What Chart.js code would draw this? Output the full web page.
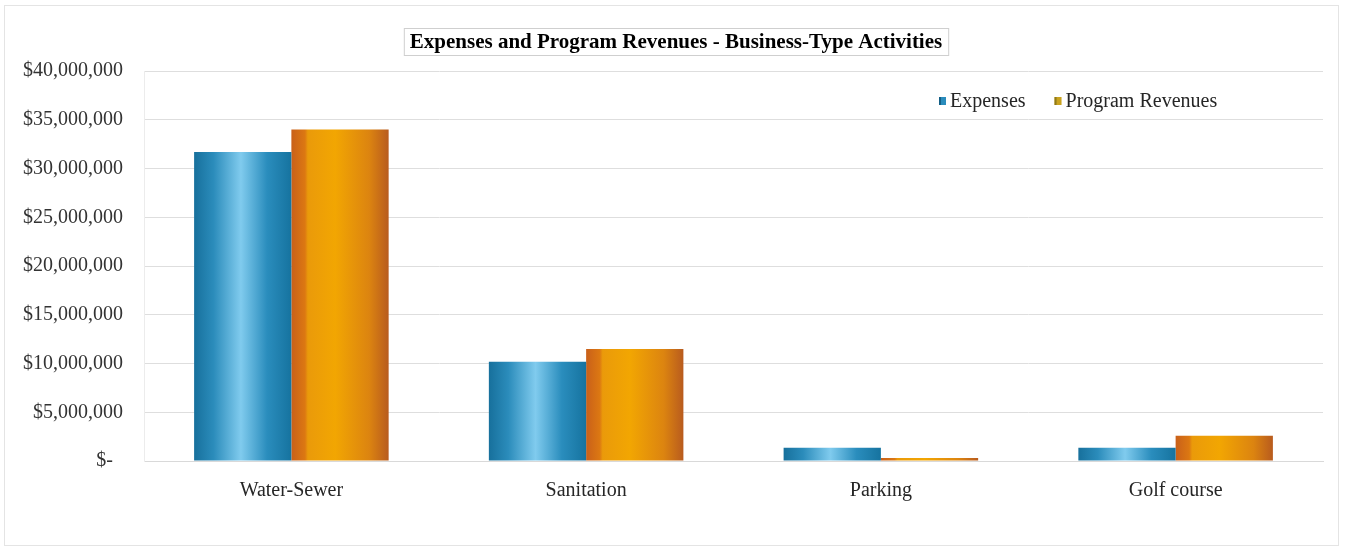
<!DOCTYPE html>
<html>
<head>
<meta charset="utf-8">
<script src="https://cdn.jsdelivr.net/npm/chart.js@4/dist/chart.umd.min.js"></script>
<style>
  html, body { margin: 0; padding: 0; background: #fff; }
  #wrap { position: relative; width: 1346px; height: 549px; }
  #frame { position: absolute; left: 4px; top: 5px; width: 1335px; height: 541px; border: 1px solid #e4e4e4; box-sizing: border-box; pointer-events: none; }
</style>
</head>
<body>
<div id="wrap">
  <canvas id="chart" width="1346" height="549"></canvas>
  <div id="frame"></div>
</div>
<script>
const chartTitle = "Expenses and Program Revenues - Business-Type Activities";
const categories = ["Water-Sewer", "Sanitation", "Parking", "Golf course"];
const seriesNames = ["Expenses", "Program Revenues"];
const expenses = [31700000, 10180000, 1350000, 1350000];
const programRevenues = [34000000, 11490000, 300000, 2600000];
const yTicks = [0, 5000000, 10000000, 15000000, 20000000, 25000000, 30000000, 35000000, 40000000];

const serif = "'Liberation Serif', 'Times New Roman', serif";
const groupPct = 0.66;

// colour stops across the width of one bar
const blueStops = [[0, "#17709c"], [0.2, "#2b8cbb"], [0.48, "#80cbee"], [0.75, "#2a8dbd"], [1, "#16739f"]];
const orangeStops = [[0, "#c9601a"], [0.14, "#dc7812"], [0.17, "#ea9a0a"], [0.45, "#f2a602"], [0.8, "#dc8410"], [1, "#b85b1e"]];

function barGradient(stops, fallback) {
  return (ctx) => {
    const chart = ctx.chart;
    const x = chart.scales.x;
    if (!chart.chartArea || !x || ctx.dataIndex === undefined) return fallback;
    const slot = x.width / categories.length;
    const barW = slot * groupPct / 2;
    const center = x.getPixelForValue(ctx.dataIndex);
    const left = center - slot * groupPct / 2 + ctx.datasetIndex * barW;
    const g = chart.ctx.createLinearGradient(left, 0, left + barW, 0);
    stops.forEach(s => g.addColorStop(s[0], s[1]));
    return g;
  };
}

// boxed title and a small legend inside the plot
const decorations = {
  id: "decorations",
  afterDraw(chart) {
    const c = chart.ctx;
    c.save();
    c.font = "bold 21px " + serif;
    const tw = c.measureText(chartTitle).width;
    const cx = 676;
    c.fillStyle = "#fff";
    c.strokeStyle = "#cfcfcf";
    c.lineWidth = 1;
    c.fillRect(cx - tw / 2 - 6, 28.5, tw + 12, 27);
    c.strokeRect(cx - tw / 2 - 6 + 0.5, 28.5, tw + 12, 27);
    c.fillStyle = "#000";
    c.textAlign = "center";
    c.textBaseline = "middle";
    c.fillText(chartTitle, cx, 43);

    c.font = "20px " + serif;
    c.textAlign = "left";
    let lx = 939;
    const ly = 101;
    const markers = [["#2a8cbc", "#135f86"], ["#c9a21e", "#8f7a1a"]];
    chart.data.datasets.forEach((ds, i) => {
      c.fillStyle = markers[i][0];
      c.fillRect(lx, ly - 4, 7, 8);
      c.fillStyle = markers[i][1];
      c.fillRect(lx, ly - 4, 2, 8);
      c.fillStyle = "#262626";
      c.fillText(ds.label, lx + 11, ly + 1);
      lx += 11 + c.measureText(ds.label).width + 29;
    });
    c.restore();
  }
};

new Chart(document.getElementById("chart"), {
  type: "bar",
  plugins: [decorations],
  data: {
    labels: categories,
    datasets: [
      { label: seriesNames[0], data: expenses, backgroundColor: barGradient(blueStops, "#2a8cbc") },
      { label: seriesNames[1], data: programRevenues, backgroundColor: barGradient(orangeStops, "#e8950a") }
    ]
  },
  options: {
    responsive: false,
    animation: false,
    layout: { padding: { left: 0, right: 23, top: 71, bottom: 36 } },
    datasets: { bar: { categoryPercentage: groupPct, barPercentage: 1 } },
    plugins: {
      legend: { display: false },
      title: { display: false },
      tooltip: { enabled: false }
    },
    scales: {
      x: {
        grid: { display: false },
        border: { color: "#d9d9d9" },
        ticks: { color: "#262626", font: { family: serif, size: 20 }, padding: 10 }
      },
      y: {
        min: 0,
        max: 40000000,
        afterBuildTicks: (axis) => { axis.ticks = yTicks.map(v => ({ value: v })); },
        afterFit: (axis) => { axis.width = 144; },
        grid: { color: "#dedede", drawTicks: false },
        border: { display: true, color: "#ececec" },
        ticks: {
          color: "#333333",
          padding: 21,
          font: { family: serif, size: 20 },
          callback: (v) => v === 0 ? "$-  " : "$" + v.toLocaleString("en-US")
        }
      }
    }
  }
});
</script>
</body>
</html>
